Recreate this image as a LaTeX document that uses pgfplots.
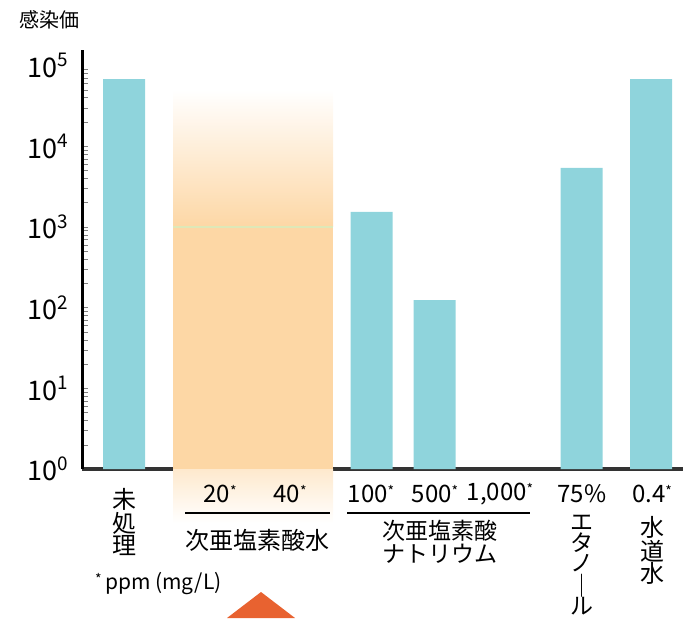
\documentclass[border=0pt]{standalone}
\usepackage{fontspec}
\setmainfont{Noto Sans CJK JP}
\usepackage{pgfplots}
\pgfplotsset{compat=1.18}
\usetikzlibrary{calc}
\definecolor{barc}{RGB}{143,212,220}
\definecolor{peach}{RGB}{253,215,165}
\definecolor{tri}{RGB}{232,98,48}
\definecolor{lime}{RGB}{222,232,184}
\newcommand{\st}{\raisebox{0.45ex}{\scriptsize *}}
% label under the axis: x in axis units, depth below the axis line in pt
\newcommand{\lab}[4][]{\node[#1] at ($(axis cs:#2,1)+(0pt,-#3)$) {#4};}

\begin{document}
\begin{tikzpicture}
\useasboundingbox (-41pt,-74.5pt) rectangle (300.5pt,234.5pt);
\begin{axis}[
  at={(0,0)}, anchor=south west, scale only axis,
  width=300.5pt, height=209.5pt,
  xmin=82, xmax=683,
  ymode=log, ymin=1, ymax=156000, log origin=infty,
  axis x line*=bottom, axis y line*=left,
  x axis line style={-, line width=2pt, color=black!80},
  y axis line style={-, line width=1.5pt, color=black},
  xtick=\empty,
  ytick={1,10,100,1000,10000,100000},
  yticklabels={10\textsuperscript{0},10\textsuperscript{1},10\textsuperscript{2},10\textsuperscript{3},10\textsuperscript{4},10\textsuperscript{5}},
  major tick length=0pt,
  yticklabel style={font=\fontsize{13.5}{14}\selectfont, xshift=-3pt},
  clip=false,
]
% shaded band behind the hypochlorous acid water group
\fill[peach] (axis cs:173,1) rectangle (axis cs:333,1000);
\shade[bottom color=peach, top color=white] (axis cs:173,1000) rectangle (axis cs:333,50000);
\shade[top color=peach!55, bottom color=white] ($(axis cs:173,1)$) rectangle ($(axis cs:333,1)+(0pt,-27pt)$);
\draw[lime, line width=1.3pt] (axis cs:173,1000) -- (axis cs:333,1000);

\addplot[ybar, bar width=42, fill=barc, draw=none] coordinates {
  (124,68000) (371.5,1535) (434.5,124) (581.5,5390) (651,68000)
};

% number row
\begin{scope}[font=\fontsize{12}{13}\selectfont]
\lab{220}{12.5pt}{20\st}
\lab{290}{12.5pt}{40\st}
\lab{371}{12.5pt}{100\st}
\lab{435}{12.5pt}{500\st}
\lab{500}{12.5pt}{1,000\st}
\lab{582}{12.5pt}{75\%}
\lab{652}{12.5pt}{0.4\st}
\end{scope}
\draw[line width=1pt] ($(axis cs:185,1)+(0pt,-22pt)$) -- ($(axis cs:330,1)+(0pt,-22pt)$);
\draw[line width=1pt] ($(axis cs:347,1)+(0pt,-22pt)$) -- ($(axis cs:530,1)+(0pt,-22pt)$);

\begin{scope}[font=\fontsize{12}{11}\selectfont]
\lab[align=center]{124}{26.5pt}{未\\処\\理}
\lab{257}{35.5pt}{次亜塩素酸水}
\lab[align=center, font=\fontsize{11.5}{11.5}\selectfont]{440}{36.5pt}{次亜塩素酸\\ナトリウム}
\lab[align=center, anchor=north, font=\fontsize{11.5}{10.3}\selectfont]{582}{19.5pt}{エ\\タ\\ノ\\｜\\ル}
\lab[align=center, anchor=north]{652}{20pt}{水\\道\\水}
\end{scope}
\node[anchor=west, font=\fontsize{10.5}{12}\selectfont] at ($(axis cs:88,1)+(0pt,-57.5pt)$) {\st\,ppm (mg/L)};
\node[anchor=west, font=\fontsize{10}{11}\selectfont] at ($(axis cs:82,1)+(-35pt,224.5pt)$) {感染価};

\fill[tri] ($(axis cs:261,1)+(0pt,-61.5pt)$) -- ($(axis cs:227,1)+(0pt,-74.5pt)$) -- ($(axis cs:295,1)+(0pt,-74.5pt)$) -- cycle;
\end{axis}
\end{tikzpicture}
\end{document}
